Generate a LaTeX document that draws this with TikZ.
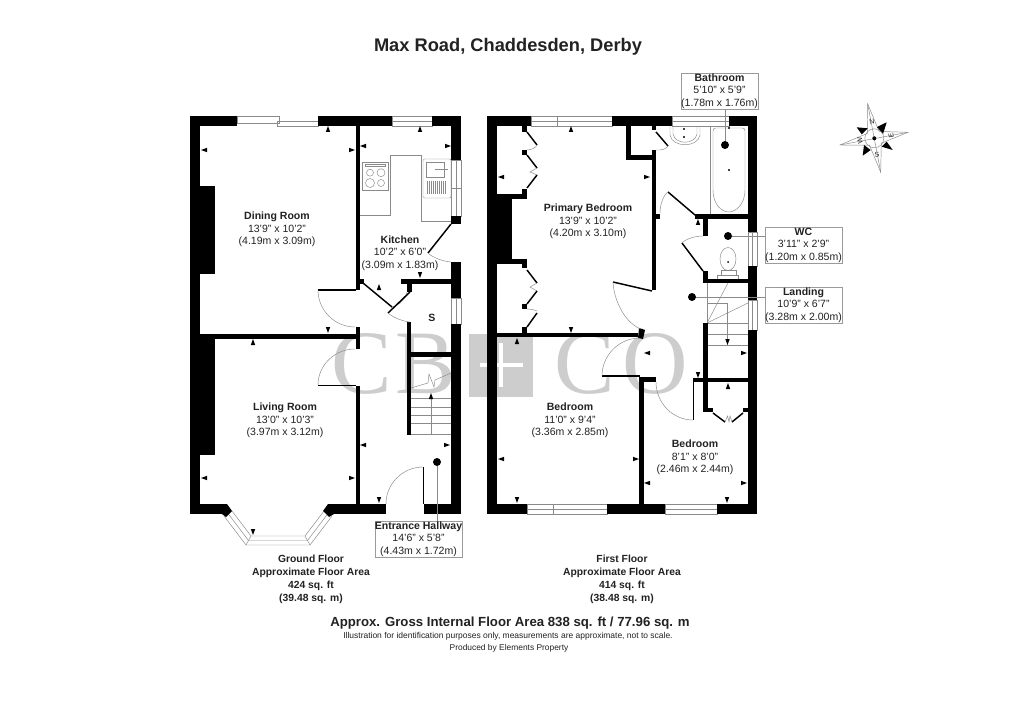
\documentclass[tikz,border=0pt]{standalone}
\usepackage{fontspec}
\setmainfont{Liberation Sans}
\newfontfamily\wmfont{Liberation Serif}
\usetikzlibrary{calc}
\definecolor{thin}{HTML}{8A8A8A}
\definecolor{wm}{HTML}{CDCDCD}
\definecolor{boxline}{HTML}{9A9A9A}
\definecolor{txt}{HTML}{222222}
\newcommand{\wall}[4]{\fill[black] (#1,#2) rectangle (#3,#4);}
\newcommand{\winH}[4]{\draw[winline] (#1,#2) rectangle (#3,#4); \draw[winline] (#1,{(#2+#4)/2}) -- (#3,{(#2+#4)/2});}
\newcommand{\winV}[4]{\draw[winline] (#1,#2) rectangle (#3,#4); \draw[winline] ({(#1+#3)/2},#2) -- ({(#1+#3)/2},#4);}
\newcommand{\qa}[3]{\draw[doorarc] (#1) .. controls ($(#1)!.55!(#2)$) and ($(#3)!.55!(#2)$) .. (#3);}
\newcommand{\mkU}[2]{\fill[shift={(#1,#2)}] (0,-3) -- (2.2,3) -- (-2.2,3) -- cycle;}
\newcommand{\mkD}[2]{\fill[shift={(#1,#2)}] (0,3) -- (2.2,-3) -- (-2.2,-3) -- cycle;}
\newcommand{\mkL}[2]{\fill[shift={(#1,#2)}] (-3,0) -- (3,2.2) -- (3,-2.2) -- cycle;}
\newcommand{\mkR}[2]{\fill[shift={(#1,#2)}] (3,0) -- (-3,2.2) -- (-3,-2.2) -- cycle;}
\newcommand{\rmtxt}[3]{\textbf{#1}\\#2\\#3}
\tikzset{
  winline/.style={draw=thin,line width=.35pt},
  thinline/.style={draw=thin,line width=.35pt},
  doorarc/.style={draw=thin,line width=.35pt},
  leaf/.style={draw=black,line width=1.1pt},
  roomlabel/.style={align=center,text=txt,inner sep=0pt,font=\fontsize{7.9}{9.4}\selectfont},
  notelabel/.style={align=center,text=txt,inner sep=0pt,font=\fontsize{7.75}{9.9}\selectfont\bfseries},
  boxlabel/.style={roomlabel,draw=boxline,fill=white,line width=.5pt},
  leader/.style={draw=thin,line width=.35pt},
  dotmark/.style={circle,fill=black,inner sep=0pt,minimum size=6pt},
  wmletter/.style={text=wm,inner sep=0pt,font=\wmfont\fontsize{68}{68}\selectfont},
  needle/.style={draw=thin,fill=white,line width=.35pt},
  ptr/.style={fill=black,draw=none},
  cmp/.style={inner sep=0pt,font=\fontsize{5.2}{5.5}\selectfont,text=txt},
}
\begin{document}
\begin{tikzpicture}[x=.75pt,y=-.75pt]
\useasboundingbox (0,0) rectangle (1020,720);
\fill[white] (0,0) rectangle (1020,720);

% watermark
\node[wmletter] (wmC) at (362,364) {C};
\node[wmletter] (wmB) at (426,364) {B};
\fill[wm] (469,334) rectangle (533,397);
\draw[white,line width=3pt] (480,365) -- (523,365);
\draw[white,line width=3pt] (501,343) -- (501,387);
\node[wmletter] (wmC2) at (585,364) {C};
\node[wmletter] (wmO) at (655,364) {O};

% title
\node[inner sep=0pt,font=\fontsize{13.7}{15}\selectfont\bfseries,text=txt] (title) at (508,47) {Max Road, Chaddesden, Derby};

%%%%% GROUND FLOOR
% windows
\draw[winline] (237,116) rectangle (279,123);
\draw[winline] (277,121) rectangle (318,126);
\winH{392}{116}{432}{126}
\winV{451}{160}{461}{216}
\draw[winline] (451,188) -- (461,188);
\winV{451}{298}{461}{324}
% bay
\draw[winline] (224,516) -- (246,545) -- (310,545) -- (332,516);
\draw[winline] (232,511) -- (251,536) -- (305,536) -- (324,511);
\draw[winline] (228,513.5) -- (248.5,540.5) -- (307.5,540.5) -- (328,513.5);
\draw[winline] (246,545) -- (251,536) (310,545) -- (305,536);
% kitchen units
\draw[thinline] (360,215) -- (390,215) -- (390,155) -- (421,155) -- (421,221) -- (451,221);
\draw[thinline] (362,162) rectangle (388,190);
\draw[thinline] (370,172.7) circle (3.5) (381,172.7) circle (4) (370,183) circle (4.5) (381,183) circle (3.5);
\draw[thinline] (365,164) rectangle (385,166.5);
\draw[thinline,rounded corners=1pt] (423,159) rectangle (451,198);
\draw[thinline] (426,162) rectangle (444,177);
\draw[thinline] (435,169) -- (448,169);
\foreach \i in {427,429,...,445} {\draw[thinline] (\i,181) -- (\i,194);}
% ground stairs
\foreach \i in {398,407,415,423,434} {\draw[thinline] (411,\i) -- (451,\i);}
\draw[thinline] (411,388) -- (428,383) -- (429,374) -- (434,387) -- (435,380) -- (451,373);
\draw[thinline] (431,434) -- (431,396);
\mkU{431}{396}
% walls
\wall{190}{116}{237}{126}
\wall{318}{116}{392}{126}
\wall{432}{116}{461}{126}
\wall{190}{116}{200}{514}
\wall{451}{126}{461}{160}
\wall{451}{216}{461}{224}
\wall{451}{262}{461}{298}
\wall{451}{324}{461}{514}
\wall{200}{186}{215}{274}
\wall{200}{339}{215}{455}
\wall{356}{126}{360}{290}
\wall{360}{279}{364}{284}
\wall{200}{334}{356}{339}
\wall{356}{327}{360}{349}
\wall{356}{386}{360}{504}
\wall{190}{504}{227}{514}
\wall{328}{504}{386}{514}
\wall{424}{504}{461}{514}
\fill (227,504) -- (232,511) -- (226,517) -- (222,514) -- cycle;
\fill (328,504) -- (323,511) -- (329,517) -- (334,514) -- cycle;
\wall{401}{279}{451}{284}
\wall{407}{284}{412}{292}
\wall{407}{322}{411}{435}
\wall{411}{352}{451}{357}
% ground doors
\draw[leaf,line width=.9pt] (318,290) -- (356,290);
\qa{318,290}{318,327}{355,327}
\qa{355,349}{318,349}{318,385}
\draw[leaf,line width=.9pt] (318,385.5) -- (356,385.5);
\draw[leaf] (451,224) -- (428,253);
\qa{428,253}{436,261}{451,262}
\draw[leaf] (363,283) -- (392,307);
\qa{392,307}{404,305}{407,292}
\draw[leaf] (410,292) -- (388,313);
\qa{388,313}{397,321}{410,322}
\qa{386,504}{386,467}{423,467}
\draw[leaf,line width=.9pt] (423.5,467) -- (423.5,504);

%%%%% FIRST FLOOR
\winH{531}{116}{612}{126}
\draw[winline] (557,116) -- (557,126);
\winH{672}{116}{729}{126}
\winV{748}{232}{757}{266}
\winV{748}{300}{757}{330}
\winH{527}{504}{607}{514}
\draw[winline] (553,504) -- (553,514);
\winH{665}{504}{717}{514}
% bathroom
\draw[thinline] (670,126) -- (670,135) .. controls (672,148) and (698,148) .. (700,135) -- (700,126);
\draw[thinline] (673,126) -- (673,134) .. controls (675,145) and (695,145) .. (697,134) -- (697,126);
\fill[thin] (684,129) circle (1.2) (684,137) circle (1.2);
\draw[thinline] (710,126) -- (710,214);
\draw[thinline] (716,128) -- (742,128) .. controls (744,128) and (745,129) .. (745,131) -- (745,190) .. controls (745,205) and (735,212) .. (729,212) .. controls (722,212) and (713,205) .. (713,190) -- (713,131) .. controls (713,129) and (714,128) .. (716,128) -- cycle;
\fill[thin] (729,170) circle (1.2) (729,128) circle (1.2);
% toilet
\draw[thinline] (728,259) ellipse (8 and 11.5);
\fill[thin] (728,262) circle (1);
\draw[thinline,fill=white] (721,270) rectangle (736,275);
\draw[thinline,fill=white] (717,275) rectangle (738,279);
% first stairs
\draw[thinline] (707,283) -- (707,323);
\draw[thinline] (707,303) -- (727,303) -- (727,343);
\draw[thinline] (707,323) -- (748,303);
\draw[thinline] (707,323) -- (728,283);
\foreach \i in {323,334,345} {\draw[thinline] (707,\i) -- (748,\i);}
\mkD{727.5}{342}
% walls
\wall{487}{116}{531}{126}
\wall{612}{116}{672}{126}
\wall{729}{116}{757}{126}
\wall{487}{116}{497}{514}
\wall{748}{126}{757}{232}
\wall{748}{266}{757}{300}
\wall{748}{330}{757}{514}
\wall{487}{504}{527}{514}
\wall{607}{504}{665}{514}
\wall{717}{504}{757}{514}
\wall{497}{333}{638}{337}
\fill (639,328) -- (645,330) -- (643,339) -- (638,338) -- cycle;
\wall{497}{194}{512}{264}
\wall{497}{194}{527}{199}
\wall{497}{259}{527}{264}
\wall{522}{126}{527}{132}
\wall{522}{150}{527}{155}
\wall{522}{189}{527}{199}
\wall{522}{259}{527}{268}
\wall{522}{304}{527}{309}
\wall{522}{327}{527}{333}
\wall{626}{126}{631}{160}
\wall{626}{155}{656}{160}
\wall{652}{126}{656}{130}
\wall{652}{150}{656}{155}
\wall{652}{160}{656}{290}
\wall{656}{214}{660}{219}
\wall{695}{214}{748}{219}
\wall{703}{219}{708}{236}
\wall{703}{271}{708}{283}
\wall{703}{279}{748}{283}
\wall{703}{323}{708}{378}
\wall{693}{378}{748}{382}
\wall{703}{382}{708}{412}
\wall{703}{408}{713}{412}
\wall{743}{408}{748}{412}
\wall{639}{377}{644}{504}
\wall{639}{377}{656}{382}
% bifold cupboards
\draw[leaf] (527,132) -- (537,145);
\qa{537,145}{535,150}{527,150}
\draw[leaf] (527,155) -- (537,168);
\draw[thinline] (537,168) -- (530,172) -- (537,175);
\draw[leaf] (537,175) -- (527,188);
\draw[leaf] (527,270) -- (537,283);
\draw[thinline] (537,283) -- (530,287) -- (537,291);
\draw[leaf] (537,291) -- (527,304);
\qa{537,311}{533,309}{527,309}
\draw[leaf] (537,313) -- (527,327);
% other doors
\draw[leaf] (613,282) -- (652,291);
\qa{613,282}{615,320}{641,329}
\draw[leaf,line width=.9pt] (602,376) -- (640,376);
\qa{640,338}{602,338}{602,376}
\draw[leaf,line width=.6pt] (693,382) -- (693,420);
\qa{656,382}{656,420}{693,420}
\draw[leaf] (668,192) -- (695,215);
\qa{668,192}{660,197}{660,213}
\draw[leaf] (682,243) -- (703,271);
\qa{703,236}{688,236}{682,243}
\draw[leaf] (656,132) -- (668,146);
\qa{668,146}{666,151}{656,150}
\draw[leaf] (713,413) -- (725,422);
\draw[leaf] (743,413) -- (732,422);
\draw[thinline] (725,422) -- (727.5,416) -- (729,422) -- (730,416) -- (732,422);

%%%%% dimension marks
\mkU{328}{129} \mkL{204}{150} \mkR{352}{150} \mkD{328}{330}
\mkU{420}{129} \mkL{363}{146} \mkR{448}{146} \mkD{420}{275} \mkU{379}{287}
\mkU{253}{342} \mkL{204}{478} \mkR{352}{478} \mkD{253}{532}
\mkL{363}{445} \mkR{447}{445} \mkD{379}{500}
\mkU{571}{129} \mkL{501}{177} \mkR{647}{177} \mkD{571}{330}
\mkU{517}{341} \mkL{501}{459} \mkR{636}{459} \mkD{517}{500}
\mkL{647}{483} \mkR{744}{483} \mkD{727}{500} \mkU{728}{386}
\mkL{647}{353} \mkR{744}{353} \mkD{698}{375} \mkU{698}{222}

%%%%% room labels
\node[roomlabel] (dining) at (277,229.5) {\rmtxt{Dining Room}{13'9" x 10'2"}{(4.19m x 3.09m)}};
\node[roomlabel] (kitchen) at (400,253) {\rmtxt{Kitchen}{10'2" x 6'0"}{(3.09m x 1.83m)}};
\node[roomlabel] (living) at (285,420.5) {\rmtxt{Living Room}{13'0" x 10'3"}{(3.97m x 3.12m)}};
\node[roomlabel] (primary) at (588,221.5) {\rmtxt{Primary Bedroom}{13'9" x 10'2"}{(4.20m x 3.10m)}};
\node[roomlabel] (bed1) at (570,420.5) {\rmtxt{Bedroom}{11'0" x 9'4"}{(3.36m x 2.85m)}};
\node[roomlabel] (bed2) at (695,457.5) {\rmtxt{Bedroom}{8'1" x 8'0"}{(2.46m x 2.44m)}};
\node[roomlabel] (store) at (432,318) {\textbf{S}};

%%%%% callouts
\node[dotmark] (dHall) at (437,462) {};
\node[dotmark] (dBath) at (725,145) {};
\node[dotmark] (dWC) at (728,236) {};
\node[dotmark] (dLand) at (692,297) {};
\node[boxlabel,minimum width=65.2pt,minimum height=27pt] (bHall) at (418.5,539) {\rmtxt{Entrance Hallway}{14'6" x 5'8"}{(4.43m x 1.72m)}};
\node[boxlabel,minimum width=57.5pt,minimum height=27pt] (bBath) at (719.5,91) {\rmtxt{Bathroom}{5'10" x 5'9"}{(1.78m x 1.76m)}};
\node[boxlabel,minimum width=57.5pt,minimum height=27pt] (bWC) at (803.5,245) {\rmtxt{WC}{3'11" x 2'9"}{(1.20m x 0.85m)}};
\node[boxlabel,minimum width=57.5pt,minimum height=27pt] (bLand) at (803.5,305) {\rmtxt{Landing}{10'9" x 6'7"}{(3.28m x 2.00m)}};
\draw[leader] (dHall) -- (dHall |- bHall.north);
\draw[leader] (dBath) -- (dBath |- bBath.south);
\draw[leader] (dWC) -- (dWC -| bWC.west);
\draw[leader] (dLand) -- (dLand -| bLand.west);

%%%%% compass
\coordinate (cc) at (874.3,138.3);
\path[needle] (867.7,104) -- (879.1,131.4) -- (908,132.3) -- (881.3,143.2) -- (880.7,172.3) -- (869.5,145.2) -- (840,145) -- (867.3,133.4) -- cycle;
\fill[ptr] (856.7,127.3) -- (867.7,128.3) -- (861.7,134.3) -- cycle;
\fill[ptr] (886.7,122.3) -- (877,127) -- (883,134) -- cycle;
\fill[ptr] (892.7,150) -- (881.7,146.7) -- (886.7,141.7) -- cycle;
\fill[ptr] (862.7,155.7) -- (864,145) -- (870.7,150) -- cycle;
\draw[thinline] (cc) circle (9.5);
\draw[thinline] (867.7,104) -- (880.7,172.3) (840,145) -- (908,132.3);
\fill (cc) circle (2);
\node[cmp,rotate=10] (cN) at (872,122) {N};
\node[cmp,rotate=10] (cS) at (877,155) {S};
\node[cmp,rotate=100] (cE) at (891,136) {E};
\node[cmp,rotate=100] (cW) at (860,141) {W};

%%%%% notes
\node[notelabel] (gf) at (311,579.5) {Ground Floor\\Approximate Floor Area\\424 sq. ft\\(39.48 sq. m)};
\node[notelabel] (ff) at (622,579.5) {First Floor\\Approximate Floor Area\\414 sq. ft\\(38.48 sq. m)};
\node[inner sep=0pt,font=\fontsize{9.9}{11}\selectfont\bfseries,text=txt] (total) at (510,623) {Approx. Gross Internal Floor Area 838 sq. ft / 77.96 sq. m};
\node[inner sep=0pt,font=\fontsize{6.35}{7}\selectfont,text=txt] (illus) at (508,636.5) {Illustration for identification purposes only, measurements are approximate, not to scale.};
\node[inner sep=0pt,font=\fontsize{6.3}{7}\selectfont,text=txt] (prod) at (509,648) {Produced by Elements Property};
\end{tikzpicture}
\end{document}
